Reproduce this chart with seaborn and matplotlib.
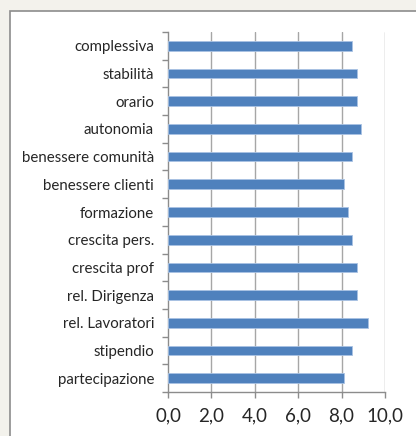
import numpy as np
import pandas as pd
import matplotlib.pyplot as plt
from matplotlib.patches import Rectangle
import seaborn as sns

# dati
categorie = ['complessiva', 'stabilità', 'orario', 'autonomia', 'benessere comunità',
             'benessere clienti', 'formazione', 'crescita pers.', 'crescita prof',
             'rel. Dirigenza', 'rel. Lavoratori', 'stipendio', 'partecipazione']
valori = [8.5, 8.7, 8.7, 8.9, 8.5, 8.1, 8.3, 8.5, 8.7, 8.7, 9.2, 8.5, 8.1]
tick_x = [0, 2, 4, 6, 8, 10]

df = pd.DataFrame({'categoria': categorie, 'valore': valori})

sns.set_style('white')
plt.rcParams['font.family'] = ['Lato', 'DejaVu Sans']

fig = plt.figure(figsize=(4.16, 4.36), dpi=100)
fig.patch.set_facecolor('#f3f2ec')
# pannello bianco del grafico
fig.patches.append(Rectangle((9.5 / 416, -0.1), 1.0, 1 - 10.5 / 436 + 0.1,
                             transform=fig.transFigure, facecolor='white',
                             edgecolor='#8c8c8c', linewidth=1.2, zorder=-5))

ax = fig.add_axes([168 / 416, 1 - 392 / 436, 217 / 416, 360 / 436])
ax.set_facecolor('none')

sns.barplot(data=df, y='categoria', x='valore', orient='h', color='#4f81bd',
            saturation=1, width=0.35, edgecolor='#a9c2e3', linewidth=0.6, ax=ax, zorder=3)

ax.set_xlim(0, 10)
ax.set_ylim(len(categorie) - 0.5, -0.5)
ax.set_xticks(tick_x)
ax.set_xticklabels([f'{v:.1f}'.replace('.', ',') for v in tick_x], fontsize=13.5, color='#262626')
ax.set_xlabel('')
ax.set_ylabel('')

# griglia verticale
for v in tick_x[1:]:
    ax.axvline(v, color='#a6a6a6', linewidth=1.0, zorder=1)

# etichette categorie e tacche fra le categorie
ax.set_yticks(np.arange(len(categorie)))
ax.set_yticklabels(categorie, fontsize=10.8, color='#262626')
ax.set_yticks(np.arange(len(categorie) + 1) - 0.5, minor=True)
ax.tick_params(axis='y', which='major', length=0, pad=10)
ax.tick_params(axis='y', which='minor', length=4, color='#8c8c8c', width=1, left=True)
ax.tick_params(axis='x', which='major', length=4, color='#8c8c8c', width=1, pad=7, bottom=True)

for s in ['top', 'right']:
    ax.spines[s].set_visible(False)
for s in ['left', 'bottom']:
    ax.spines[s].set_color('#8c8c8c')
    ax.spines[s].set_linewidth(1.0)

plt.savefig('out.png', dpi=100, facecolor=fig.get_facecolor())
